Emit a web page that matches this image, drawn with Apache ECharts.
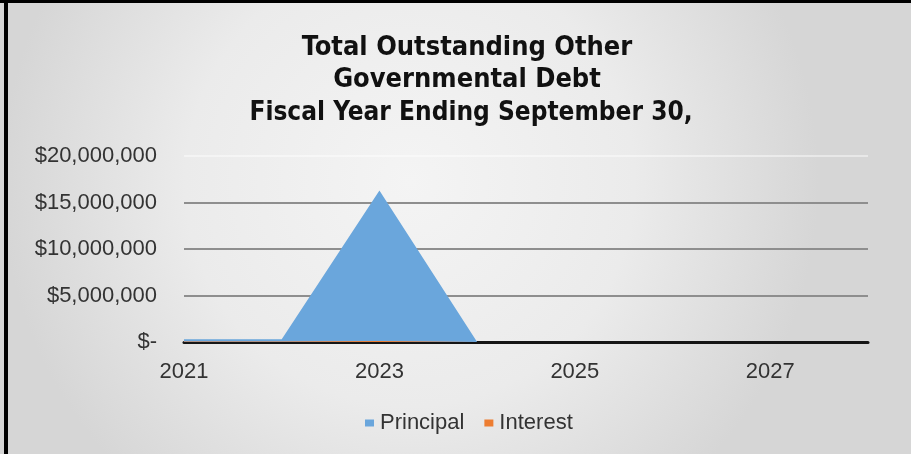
<!DOCTYPE html>
<html>
<head>
<meta charset="utf-8">
<script src="https://cdn.jsdelivr.net/npm/echarts@6/dist/echarts.min.js"></script>
<style>
  html, body { margin: 0; padding: 0; }
  #chart { width: 911px; height: 454px; }
</style>
</head>
<body>
<div id="chart"></div>
<script>
// Fiscal years on the category axis
const years = ['2021', '2022', '2023', '2024', '2025', '2026', '2027', '2028'];
// Outstanding principal and interest by fiscal year (USD)
const principal = [300000, 300000, 16300000, 0, 0, 0, 0, 0];
const interest = [60000, 50000, 120000, 0, 0, 0, 0, 0];
const seriesNames = ['Principal', 'Interest'];
// Value axis ticks
const yTicks = [0, 5000000, 10000000, 15000000, 20000000];

const titleLines = ['Total Outstanding Other', 'Governmental Debt'];
const subLine = 'Fiscal Year Ending September 30,';

const condensed = "'Liberation Sans Narrow', 'DejaVu Sans Condensed', 'Liberation Sans', Arial, sans-serif";
const sans = "'Liberation Sans', Arial, sans-serif";

function fmtMoney(v) {
  return v === 0 ? '$-' : '$' + v.toLocaleString('en-US');
}

const chart = echarts.init(document.getElementById('chart'));
chart.setOption({
  backgroundColor: {
    type: 'radial', x: 0.45, y: 0.4, r: 0.9,
    colorStops: [
      { offset: 0, color: '#f4f4f4' },
      { offset: 0.55, color: '#ebebeb' },
      { offset: 1, color: '#d6d6d6' }
    ]
  },
  animation: false,
  graphic: [
    { type: 'rect', left: 0, top: 0, shape: { width: 911, height: 3 }, style: { fill: '#000' } },
    { type: 'rect', left: 4, top: 0, shape: { width: 4, height: 454 }, style: { fill: '#000' } }
  ],
  title: [
    {
      text: titleLines.join('\n'),
      left: 462, top: 27, textAlign: 'center',
      textStyle: { fontFamily: condensed, fontWeight: 'bold', fontSize: 27, lineHeight: 32, color: '#111', align: 'center' }
    },
    {
      text: subLine,
      left: 466, top: 95, textAlign: 'center',
      textStyle: { fontFamily: condensed, fontWeight: 'bold', fontSize: 26, color: '#111' }
    }
  ],
  legend: {
    data: seriesNames,
    left: 360, top: 407,
    icon: 'rect', itemWidth: 9, itemHeight: 7, itemGap: 20,
    textStyle: { fontFamily: sans, fontSize: 22, color: '#333', padding: [0, 0, 0, 1] }
  },
  grid: { left: 184, right: 43, top: 156, bottom: 112, containLabel: false },
  xAxis: {
    type: 'category',
    data: years,
    boundaryGap: false,
    axisLine: { lineStyle: { color: '#151515', width: 3 } },
    axisTick: { show: false },
    axisLabel: { interval: 1, margin: 19, fontFamily: sans, fontSize: 22, color: '#333' },
    splitLine: { show: false }
  },
  yAxis: {
    type: 'value',
    min: yTicks[0], max: yTicks[yTicks.length - 1], interval: yTicks[1] - yTicks[0],
    axisLine: { show: false },
    axisTick: { show: false },
    axisLabel: { margin: 27, fontFamily: sans, fontSize: 22, color: '#333', formatter: fmtMoney },
    splitLine: { lineStyle: { color: ['#8e8e8e', '#8e8e8e', '#8e8e8e', '#8e8e8e', 'rgba(255,255,255,0.45)'], width: 2 } }
  },
  series: [
    {
      name: seriesNames[0], type: 'line', data: principal,
      symbol: 'none', lineStyle: { width: 0 },
      itemStyle: { color: '#6AA6DC' },
      areaStyle: { color: '#6AA6DC', opacity: 1 }
    },
    {
      name: seriesNames[1], type: 'line', data: interest,
      symbol: 'none', lineStyle: { width: 0 },
      itemStyle: { color: '#ED7D31' },
      areaStyle: { color: '#ED7D31', opacity: 1 }
    }
  ]
});
</script>
</body>
</html>
